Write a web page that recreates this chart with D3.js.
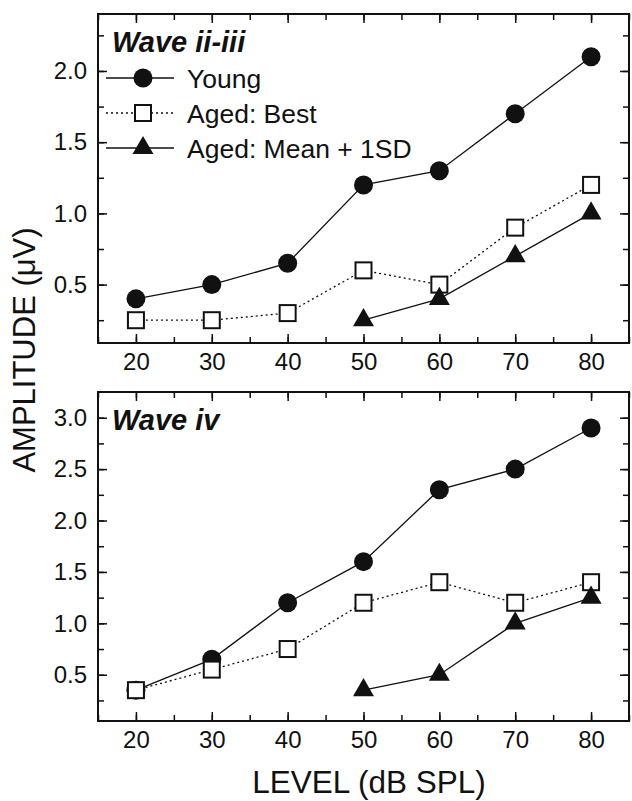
<!DOCTYPE html>
<html>
<head>
<meta charset="utf-8">
<script src="https://cdn.jsdelivr.net/npm/d3@7/dist/d3.min.js"></script>
<style>
    body { margin: 0; background: #fff; }
    svg text { font-family: "Liberation Sans", Arial, sans-serif; fill: #111; }
</style>
</head>
<body>
<svg width="632" height="801"></svg>
<script>
"use strict";

// Data (dB SPL levels and amplitudes in uV)
var levels = [20, 30, 40, 50, 60, 70, 80];
var levelsMean = [50, 60, 70, 80];

var waveIIIIIYoung = [0.4, 0.5, 0.65, 1.2, 1.3, 1.7, 2.1];
var waveIIIIIBest = [0.25, 0.25, 0.3, 0.6, 0.5, 0.9, 1.2];
var waveIIIIIMean = [0.25, 0.4, 0.7, 1.0];

var waveIVYoung = [0.35, 0.65, 1.2, 1.6, 2.3, 2.5, 2.9];
var waveIVBest = [0.35, 0.55, 0.75, 1.2, 1.4, 1.2, 1.4];
var waveIVMean = [0.35, 0.5, 1.0, 1.25];

var xTicks = [20, 30, 40, 50, 60, 70, 80];
var topYTicks = [0.5, 1.0, 1.5, 2.0];
var bottomYTicks = [0.5, 1.0, 1.5, 2.0, 2.5, 3.0];

var legendLabels = ["Young", "Aged: Best", "Aged: Mean + 1SD"];

var svg = d3.select("svg");

// Shared x scale
var xScale = d3.scaleLinear()
    .domain([15, 85])
    .range([98, 629]);

var zip = function(xs, ys) {
    return xs.map(function(x, i) { return [x, ys[i]]; });
};

var drawPanel = function(opt) {
    var y = opt.yScale;
    var g = svg.append("g").attr("class", "panel");
    var top = y.range()[1], bottom = y.range()[0];
    var left = xScale.range()[0], right = xScale.range()[1];

    // Minor ticks, all four sides
    var xMinor = d3.range(15, 86, 5);
    var yMinor = d3.range(0.25, y.domain()[1], 0.25);

    g.append("g").attr("transform", "translate(0," + bottom + ")")
        .call(d3.axisBottom(xScale).tickValues(xMinor).tickSize(-6).tickFormat(""));
    g.append("g").attr("transform", "translate(0," + top + ")")
        .call(d3.axisTop(xScale).tickValues(xMinor).tickSize(-6).tickFormat(""));
    g.append("g").attr("transform", "translate(" + left + ",0)")
        .call(d3.axisLeft(y).tickValues(yMinor).tickSize(-6).tickFormat(""));
    g.append("g").attr("transform", "translate(" + right + ",0)")
        .call(d3.axisRight(y).tickValues(yMinor).tickSize(-6).tickFormat(""));

    // Major ticks + labels
    g.append("g").attr("class", "x axis")
        .attr("transform", "translate(0," + bottom + ")")
        .call(d3.axisBottom(xScale).tickValues(xTicks).tickSize(-9).tickPadding(10));
    g.append("g").attr("transform", "translate(0," + top + ")")
        .call(d3.axisTop(xScale).tickValues(xTicks).tickSize(-9).tickFormat(""));
    g.append("g").attr("class", "y axis")
        .attr("transform", "translate(" + left + ",0)")
        .call(d3.axisLeft(y).tickValues(opt.yTicks).tickSize(-9).tickPadding(11)
            .tickFormat(d3.format(".1f")));
    g.append("g").attr("transform", "translate(" + right + ",0)")
        .call(d3.axisRight(y).tickValues(opt.yTicks).tickSize(-9).tickFormat(""));

    g.selectAll(".domain").remove();
    g.selectAll(".tick line").attr("stroke", "#111").attr("stroke-width", 1.5);
    g.selectAll(".tick text")
        .style("font-size", "24px")
        .attr("fill", "#111");

    // Frame
    g.append("rect")
        .attr("x", left)
        .attr("y", top)
        .attr("width", right - left)
        .attr("height", bottom - top)
        .attr("fill", "none")
        .attr("stroke", "#111")
        .attr("stroke-width", 2);

    // Lines
    var line = d3.line()
        .x(function(d) { return xScale(d[0]); })
        .y(function(d) { return y(d[1]); });

    var young = zip(levels, opt.young);
    var best = zip(levels, opt.best);
    var mean = zip(levelsMean, opt.mean);

    g.append("path").datum(young).attr("d", line)
        .attr("fill", "none").attr("stroke", "#111").attr("stroke-width", 1.3);
    g.append("path").datum(best).attr("d", line)
        .attr("fill", "none").attr("stroke", "#111").attr("stroke-width", 1.3)
        .attr("stroke-dasharray", "2,3");
    g.append("path").datum(mean).attr("d", line)
        .attr("fill", "none").attr("stroke", "#111").attr("stroke-width", 1.3);

    // Markers
    g.selectAll("circle.young").data(young).enter().append("circle")
        .attr("class", "young")
        .attr("cx", function(d) { return xScale(d[0]); })
        .attr("cy", function(d) { return y(d[1]); })
        .attr("r", 9.5)
        .attr("fill", "#111");

    g.selectAll("rect.best").data(best).enter().append("rect")
        .attr("class", "best")
        .attr("x", function(d) { return xScale(d[0]) - 8; })
        .attr("y", function(d) { return y(d[1]) - 8; })
        .attr("width", 16)
        .attr("height", 16)
        .attr("fill", "#fff")
        .attr("stroke", "#111")
        .attr("stroke-width", 2);

    var tri = d3.symbol().type(d3.symbolTriangle).size(190);
    g.selectAll("path.mean").data(mean).enter().append("path")
        .attr("class", "mean")
        .attr("d", tri)
        .attr("transform", function(d) {
            return "translate(" + xScale(d[0]) + "," + y(d[1]) + ")";
        })
        .attr("fill", "#111");

    // Panel title
    g.append("text")
        .attr("x", 112)
        .attr("y", top + 38)
        .style("font-size", "29px")
        .style("font-weight", "bold")
        .style("font-style", "italic")
        .text(opt.title);

    return g;
};

// Top panel: Wave ii-iii
var yTop = d3.scaleLinear().domain([0.09, 2.4]).range([343, 14]);
var topPanel = drawPanel({
    yScale: yTop, yTicks: topYTicks, title: "Wave ii-iii",
    young: waveIIIIIYoung, best: waveIIIIIBest, mean: waveIIIIIMean
});

// Bottom panel: Wave iv
var yBottom = d3.scaleLinear().domain([0.05, 3.25]).range([721, 392]);
drawPanel({
    yScale: yBottom, yTicks: bottomYTicks, title: "Wave iv",
    young: waveIVYoung, best: waveIVBest, mean: waveIVMean
});

// Legend (inside top panel)
var legend = topPanel.append("g").attr("class", "legend");
var rowY = [78, 113, 148];
legendLabels.forEach(function(label, i) {
    var row = legend.append("g").attr("transform", "translate(0," + rowY[i] + ")");
    row.append("line")
        .attr("x1", 106).attr("x2", 174).attr("y1", 0).attr("y2", 0)
        .attr("stroke", "#111").attr("stroke-width", 1.3)
        .attr("stroke-dasharray", i === 1 ? "2,3" : null);
    if (i === 0) {
        row.append("circle").attr("cx", 143).attr("cy", 0).attr("r", 9.5).attr("fill", "#111");
    } else if (i === 1) {
        row.append("rect").attr("x", 135).attr("y", -8).attr("width", 16).attr("height", 16)
            .attr("fill", "#fff").attr("stroke", "#111").attr("stroke-width", 2);
    } else {
        row.append("path").attr("d", d3.symbol().type(d3.symbolTriangle).size(190))
            .attr("transform", "translate(143,0)").attr("fill", "#111");
    }
    row.append("text")
        .attr("x", 187)
        .attr("y", 10)
        .style("font-size", "26.5px")
        .text(label);
});

// Axis titles
svg.append("text")
    .attr("x", 369)
    .attr("y", 793)
    .attr("text-anchor", "middle")
    .style("font-size", "31.5px")
    .text("LEVEL (dB SPL)");

svg.append("text")
    .attr("transform", "translate(35,350) rotate(-90)")
    .attr("text-anchor", "middle")
    .style("font-size", "31px")
    .text("AMPLITUDE (\u03BCV)");
</script>
</body>
</html>
